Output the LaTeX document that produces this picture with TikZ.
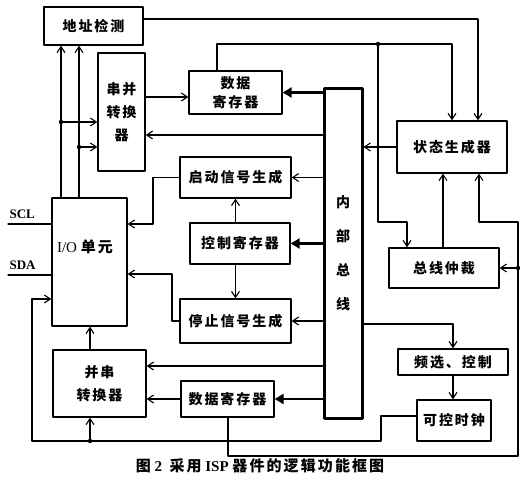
\documentclass[tikz,border=0pt]{standalone}
\usepackage{fontspec}
\setmainfont{Liberation Serif}
\newfontfamily\cjk[LetterSpace=14]{Noto Sans CJK SC}
\usetikzlibrary{arrows.meta}

\begin{document}
\begin{tikzpicture}[x=1pt,y=-1pt,line cap=round,line join=round]
  \tikzset{
    blk/.style={draw=black,line width=1.3pt,inner sep=0pt,align=center,
      font=\fontsize{14}{19}\selectfont\cjk\bfseries},
    arr/.style={draw=black,line width=1.1pt,-{Straight Barb[length=6pt,width=8pt]}},
    thk/.style={draw=black,line width=2.6pt,-{Triangle[length=9pt,width=10pt]}},
    wire/.style={draw=black,line width=1.1pt}
  }
  \useasboundingbox (0,0) rectangle (525,486);
  % blocks, placed at their centres
  \node[blk,minimum width=99pt,minimum height=38pt] (addr) at (93.5,26) {地址检测};
  \node[blk,minimum width=47pt,minimum height=118pt,font=\fontsize{14}{23}\selectfont\cjk\bfseries] (sp) at (121.5,112) {串并\\转换\\器};
  \node[blk,minimum width=93pt,minimum height=43pt] (dregA) at (235.5,92.5) {数据\\寄存器};
  \node[blk,line width=3pt,minimum width=38pt,minimum height=329pt,font=\fontsize{14}{34}\selectfont\cjk\bfseries] (bus) at (343,253.5) {内\\部\\总\\线};
  \node[blk,minimum width=110pt,minimum height=52pt] (state) at (452,147) {状态生成器};
  \node[blk,minimum width=111pt,minimum height=41pt] (start) at (235.5,177.5) {启动信号生成};
  \node[blk,minimum width=100pt,minimum height=41pt] (ctrl) at (240,243.5) {控制寄存器};
  \node[blk,minimum width=111pt,minimum height=44pt] (stop) at (235.5,321) {停止信号生成};
  \node[blk,minimum width=75pt,minimum height=128pt] (io) at (89.5,262) {};
  \node[font=\fontsize{15}{16}\selectfont] (iolbl) at (85,247) {I/O\ {\cjk\bfseries 单元}};
  \node[blk,minimum width=93pt,minimum height=67pt,font=\fontsize{14}{23}\selectfont\cjk\bfseries] (ps) at (99.5,383.5) {并串\\转换器};
  \node[blk,minimum width=93pt,minimum height=36pt] (dregB) at (227.5,399) {数据寄存器};
  \node[blk,minimum width=110pt,minimum height=40pt] (arb) at (444,268) {总线仲裁};
  \node[blk,minimum width=110pt,minimum height=26pt] (freq) at (453,362) {频选、控制};
  \node[blk,minimum width=74pt,minimum height=41pt] (clk) at (454,420.5) {可控时钟};
  % serial pins
  \node[anchor=west,font=\fontsize{13}{14}\selectfont\bfseries] (scl) at (6,214) {SCL};
  \node[anchor=west,font=\fontsize{13}{14}\selectfont\bfseries] (sda) at (6,265) {SDA};
  \coordinate (sclin) at (8,224);
  \coordinate (sdain) at (8,275);
  \draw[wire] (sclin) -- (io.west |- sclin);
  \draw[wire] (sdain) -- (io.west |- sdain);
  % junctions
  \coordinate (j1) at (378,44);
  \coordinate (jA) at (61,122);
  \coordinate (jB) at (79,147);
  \coordinate (jR) at (518,268);
  \coordinate (jP) at (90,441);
  % upper right
  \draw[arr] (addr.east |- 0,19) -| ([xshift=26pt]state.north);
  \draw[arr] (dregA.north -| 217,0) |- (j1) -| (state.north);
  \draw[arr] (j1) |- (407,222) -- (arb.north -| 407,0);
  \draw[arr] (state.west) -- (state.west -| bus.east);
  \draw[arr] (arb.north -| 443,0) -- (state.south -| 443,0);
  \draw[arr] (dregB.south -| 228,0) |- (518,456) |- (479,222) -- (state.south -| 479,0);
  \draw[arr] (jR) -- (arb.east);
  % bus outputs
  \draw[thk] (bus.west |- dregA.east) -- (dregA.east);
  \draw[arr] (bus.west |- 0,135) -- (sp.east |- 0,135);
  \draw[arr] (bus.west |- start.east) -- (start.east);
  \draw[thk] (bus.west |- ctrl.east) -- (ctrl.east);
  \draw[arr] (bus.west |- stop.east) -- (stop.east);
  \draw[arr] (bus.west |- 0,366) -- (ps.east |- 0,366);
  \draw[thk] (bus.west |- dregB.east) -- (dregB.east);
  \draw[arr] (bus.east |- 0,324) -| (freq.north);
  \draw[arr] (freq.south) -- (freq.south |- clk.north);
  % left side
  \draw[arr] (sp.east |- 0,97) -- (dregA.west |- 0,97);
  \draw[arr] (ctrl.north -| start.south) -- (start.south);
  \draw[arr] (ctrl.south -| stop.north) -- (stop.north);
  \draw[arr] (start.west) -| (153,224) -- (io.east |- 0,224);
  \draw[arr] (stop.west) -| (172,274) -- (io.east |- 0,274);
  \draw[arr] (io.north -| jA) -- (addr.south -| jA);
  \draw[arr] (io.north -| jB) -- (addr.south -| jB);
  \draw[arr] (jA) -- (sp.west |- jA);
  \draw[arr] (jB) -- (sp.west |- jB);
  \draw[arr] (ps.north -| jP) -- (io.south -| jP);
  \draw[arr] (dregB.west) -- (dregB.west -| ps.east);
  \draw[arr] (clk.west |- 0,416) -| (381,441) -| (32,299) -- (io.west |- 0,299);
  \draw[arr] (jP) -- (ps.south -| jP);
  \foreach \j in {j1,jA,jB,jR,jP} \fill (\j) circle (2.2pt);
  % caption
  \node[font=\fontsize{15}{16}\selectfont\bfseries] (cap) at (260,466) {{\cjk 图}\ 2\ \ {\cjk 采用}\ ISP\ {\cjk 器件的逻辑功能框图}};
\end{tikzpicture}
\end{document}
